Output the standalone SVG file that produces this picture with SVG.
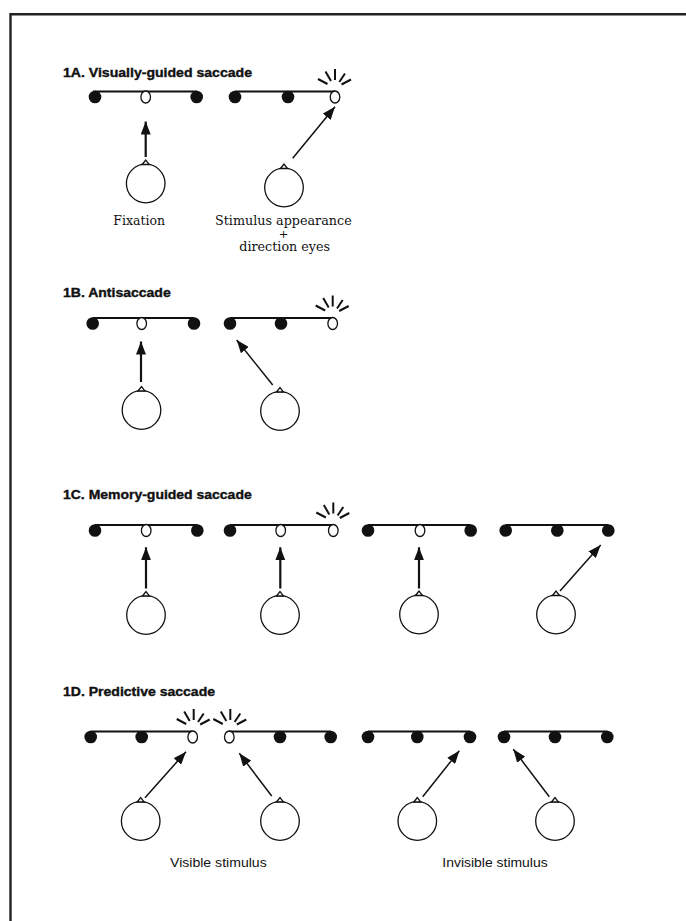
<svg xmlns="http://www.w3.org/2000/svg" xmlns:xlink="http://www.w3.org/1999/xlink" width="686" height="921" viewBox="0 0 686 921">
  <style>
    .title { font-family: "Liberation Sans", Arial, sans-serif; font-weight: bold; font-size: 12px; fill: #111; stroke: #111; stroke-width: 0.35; }
    .serif { font-family: "DejaVu Serif", "Liberation Serif", serif; font-size: 12.3px; fill: #111; }
    .plus { font-family: "DejaVu Serif", "Liberation Serif", serif; font-size: 11.5px; fill: #111; }
    .sans { font-family: "Liberation Sans", Arial, sans-serif; font-size: 13.5px; fill: #111; }
    .bar { stroke: #111; stroke-width: 2; fill: none; }
    .dot { fill: #111; }
    .open { fill: #fff; stroke: #111; stroke-width: 1.3; }
    .head { fill: #fff; stroke: #111; stroke-width: 1.3; }
    .arrow { stroke: #111; fill: none; marker-end: url(#tip); }
    .thick { stroke-width: 2.2; }
    .thin { stroke-width: 1.5; }
    .frame { stroke: #222; stroke-width: 2.4; fill: none; }
  </style>
  <defs>
    <marker id="tip" markerUnits="userSpaceOnUse" markerWidth="13" markerHeight="10" refX="13" refY="5" orient="auto">
      <path d="M0,0 L13,5 L0,10 Z" fill="#111"/>
    </marker>
    <!-- flash above a target that lights up -->
    <g id="spark" stroke="#111" stroke-width="2" stroke-linecap="butt">
      <line x1="-7.5" y1="-4" x2="-17" y2="-9"/>
      <line x1="-4" y1="-7" x2="-9.5" y2="-16.5"/>
      <line x1="0" y1="-8" x2="0" y2="-19"/>
      <line x1="4.3" y1="-6" x2="10" y2="-14.5"/>
      <line x1="6.5" y1="-3.5" x2="16" y2="-8.5"/>
    </g>
    <!-- observer's head seen from above -->
    <g id="observer">
      <circle class="head" cx="0" cy="0" r="19.3"/>
      <path class="head" d="M-3.5,-19 L0,-23.5 L3.5,-19 Z"/>
    </g>
    <circle id="fill" class="dot" r="6.3"/>
    <ellipse id="hollow" class="open" rx="4.8" ry="6"/>
  </defs>

  <rect width="686" height="921" fill="#fff"/>
  <path class="frame" d="M10.5,921 L10.5,14.3 L686,14.3"/>

  <!-- 1A -->
  <g id="panel-1a">
    <text class="title" x="63" y="77" textLength="189" lengthAdjust="spacingAndGlyphs">1A. Visually-guided saccade</text>
    <g id="a-row1">
      <line class="bar" x1="93" y1="91.5" x2="197" y2="91.5"/>
      <use xlink:href="#fill" x="95" y="97"/>
      <use xlink:href="#hollow" x="145.7" y="97"/>
      <use xlink:href="#fill" x="196.7" y="97"/>
    </g>
    <g id="a-row2">
      <line class="bar" x1="235" y1="91.5" x2="335" y2="91.5"/>
      <use xlink:href="#fill" x="235" y="97"/>
      <use xlink:href="#fill" x="288" y="97"/>
      <use xlink:href="#hollow" x="335" y="97"/>
      <use xlink:href="#spark" x="335" y="88"/>
    </g>
    <g id="a-head1"><use xlink:href="#observer" x="145.7" y="183.5"/></g>
    <g id="a-head2"><use xlink:href="#observer" x="284" y="187.5"/></g>
    <text class="serif" x="113.3" y="225" textLength="51.7" lengthAdjust="spacingAndGlyphs">Fixation</text>
    <text class="serif" x="215" y="225" textLength="136.7" lengthAdjust="spacingAndGlyphs">Stimulus appearance</text>
    <text class="plus" x="283.5" y="238" text-anchor="middle">+</text>
    <text class="serif" x="239.3" y="251" textLength="90.7" lengthAdjust="spacingAndGlyphs">direction eyes</text>
  </g>

  <!-- 1B -->
  <g id="panel-1b">
    <text class="title" x="63" y="296.7" textLength="107.7" lengthAdjust="spacingAndGlyphs">1B. Antisaccade</text>
    <g id="b-row1">
      <line class="bar" x1="92.7" y1="318" x2="194" y2="318"/>
      <use xlink:href="#fill" x="92.7" y="323.5"/>
      <use xlink:href="#hollow" x="141.7" y="323.5"/>
      <use xlink:href="#fill" x="194" y="323.5"/>
    </g>
    <g id="b-row2">
      <line class="bar" x1="230" y1="318" x2="333" y2="318"/>
      <use xlink:href="#fill" x="230" y="323.5"/>
      <use xlink:href="#fill" x="281" y="323.5"/>
      <use xlink:href="#hollow" x="332.7" y="323.5"/>
      <use xlink:href="#spark" x="332.7" y="314.5"/>
    </g>
    <g id="b-head1"><use xlink:href="#observer" x="141.5" y="410"/></g>
    <g id="b-head2"><use xlink:href="#observer" x="280" y="411"/></g>
  </g>

  <!-- 1C -->
  <g id="panel-1c">
    <text class="title" x="63" y="499.3" textLength="188.7" lengthAdjust="spacingAndGlyphs">1C. Memory-guided saccade</text>
    <g id="c-row1">
      <line class="bar" x1="95" y1="525" x2="197.3" y2="525"/>
      <use xlink:href="#fill" x="95" y="530.5"/>
      <use xlink:href="#hollow" x="146.2" y="530.5"/>
      <use xlink:href="#fill" x="197.3" y="530.5"/>
    </g>
    <g id="c-row2">
      <line class="bar" x1="230" y1="525" x2="333.3" y2="525"/>
      <use xlink:href="#fill" x="230" y="530.5"/>
      <use xlink:href="#hollow" x="280.7" y="530.5"/>
      <use xlink:href="#hollow" x="333.3" y="530.5"/>
      <use xlink:href="#spark" x="333.3" y="521.5"/>
    </g>
    <g id="c-row3">
      <line class="bar" x1="368" y1="525" x2="470.7" y2="525"/>
      <use xlink:href="#fill" x="368" y="530.5"/>
      <use xlink:href="#hollow" x="420" y="530.5"/>
      <use xlink:href="#fill" x="470.7" y="530.5"/>
    </g>
    <g id="c-row4">
      <line class="bar" x1="505.7" y1="525" x2="608.3" y2="525"/>
      <use xlink:href="#fill" x="505.7" y="530.5"/>
      <use xlink:href="#fill" x="557.3" y="530.5"/>
      <use xlink:href="#fill" x="608.3" y="530.5"/>
    </g>
    <g id="c-head1"><use xlink:href="#observer" x="146" y="615"/></g>
    <g id="c-head2"><use xlink:href="#observer" x="280" y="615"/></g>
    <g id="c-head3"><use xlink:href="#observer" x="419" y="614.5"/></g>
    <g id="c-head4"><use xlink:href="#observer" x="556" y="614.5"/></g>
  </g>

  <!-- 1D -->
  <g id="panel-1d">
    <text class="title" x="63" y="696" textLength="152" lengthAdjust="spacingAndGlyphs">1D. Predictive saccade</text>
    <g id="d-row1">
      <line class="bar" x1="90.7" y1="731.5" x2="192.7" y2="731.5"/>
      <use xlink:href="#fill" x="90.7" y="737"/>
      <use xlink:href="#fill" x="141.7" y="737"/>
      <use xlink:href="#hollow" x="192.7" y="737"/>
      <use xlink:href="#spark" x="193.7" y="728"/>
    </g>
    <g id="d-row2">
      <line class="bar" x1="229.3" y1="731.5" x2="330.7" y2="731.5"/>
      <use xlink:href="#hollow" x="229.3" y="737"/>
      <use xlink:href="#fill" x="280" y="737"/>
      <use xlink:href="#fill" x="330.7" y="737"/>
      <use xlink:href="#spark" x="230.3" y="728"/>
    </g>
    <g id="d-row3">
      <line class="bar" x1="368" y1="731.5" x2="470" y2="731.5"/>
      <use xlink:href="#fill" x="368" y="737"/>
      <use xlink:href="#fill" x="417.3" y="737"/>
      <use xlink:href="#fill" x="470" y="737"/>
    </g>
    <g id="d-row4">
      <line class="bar" x1="504" y1="731.5" x2="607.3" y2="731.5"/>
      <use xlink:href="#fill" x="504" y="737"/>
      <use xlink:href="#fill" x="555" y="737"/>
      <use xlink:href="#fill" x="607.3" y="737"/>
    </g>
    <g id="d-head1"><use xlink:href="#observer" x="140.7" y="821"/></g>
    <g id="d-head2"><use xlink:href="#observer" x="280" y="821"/></g>
    <g id="d-head3"><use xlink:href="#observer" x="417.3" y="821"/></g>
    <g id="d-head4"><use xlink:href="#observer" x="555" y="821"/></g>
    <text class="sans" x="170" y="866.7" textLength="96.7" lengthAdjust="spacingAndGlyphs">Visible stimulus</text>
    <text class="sans" x="442.3" y="866.7" textLength="105.4" lengthAdjust="spacingAndGlyphs">Invisible stimulus</text>
  </g>

  <!-- eye-movement arrows -->
  <g id="connectors">
    <line class="arrow thick" x1="145.7" y1="157" x2="145.7" y2="121.5"/>
    <line class="arrow thin" x1="292.7" y1="158.3" x2="335" y2="106.7"/>
    <line class="arrow thick" x1="141" y1="382" x2="141" y2="341.5"/>
    <line class="arrow thin" x1="272.7" y1="385" x2="236.7" y2="340"/>
    <line class="arrow thick" x1="146" y1="588.5" x2="146" y2="547.3"/>
    <line class="arrow thick" x1="280.3" y1="588.5" x2="280.3" y2="547.3"/>
    <line class="arrow thick" x1="419" y1="588.5" x2="419" y2="547.3"/>
    <line class="arrow thin" x1="560" y1="591" x2="600.7" y2="545"/>
    <line class="arrow thin" x1="145" y1="797.7" x2="186" y2="751.7"/>
    <line class="arrow thin" x1="271.7" y1="796" x2="239.3" y2="753.3"/>
    <line class="arrow thin" x1="422.7" y1="796.7" x2="459.3" y2="750.7"/>
    <line class="arrow thin" x1="549.3" y1="796.7" x2="513.3" y2="749.3"/>
  </g>
</svg>
